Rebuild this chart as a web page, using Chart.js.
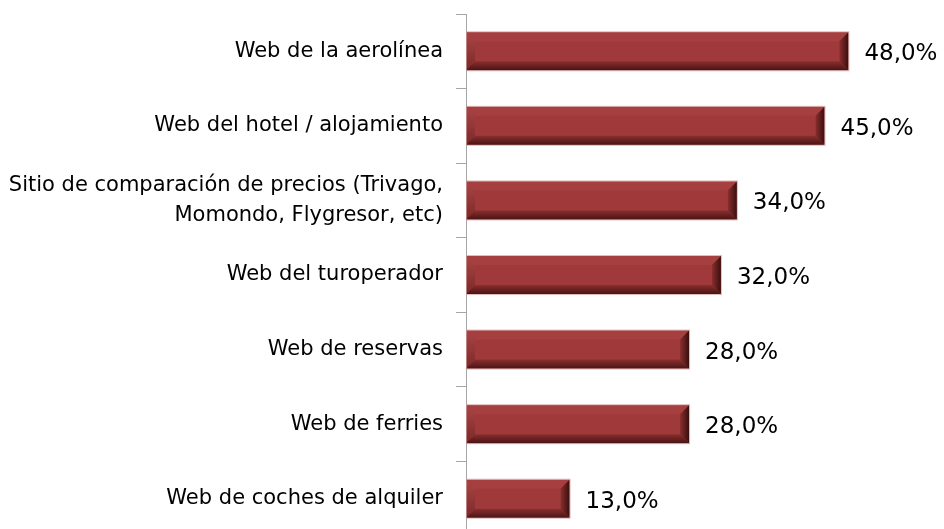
<!DOCTYPE html>
<html>
<head>
<meta charset="utf-8">
<script src="https://cdn.jsdelivr.net/npm/chart.js@4"></script>
<style>
  html, body { margin: 0; padding: 0; background: #fff; overflow: hidden; }
  #wrap { width: 944px; height: 536px; position: relative; }
</style>
</head>
<body>
<div id="wrap"><canvas id="myChart"></canvas></div>
<script>
var categories = [
    'Web de la aerolínea',
    'Web del hotel / alojamiento',
    ['Sitio de comparación de precios (Trivago,', 'Momondo, Flygresor, etc)'],
    'Web del turoperador',
    'Web de reservas',
    'Web de ferries',
    'Web de coches de alquiler'
];
var values = [48, 45, 34, 32, 28, 28, 13];

var fontFamily = '"DejaVu Sans", sans-serif';
var faceColor = '#a03a3a';

// draws the bevelled edges on top of every bar
var bevelPlugin = {
    id: 'bevel',
    afterDatasetsDraw: function (chart) {
        var ctx = chart.ctx;
        var meta = chart.getDatasetMeta(0);
        meta.data.forEach(function (bar) {
            var l = bar.base, r = bar.x;
            var t = bar.y - bar.height / 2, b = bar.y + bar.height / 2;
            var s = 9;
            ctx.save();
            // top
            ctx.fillStyle = '#a64040';
            ctx.beginPath();
            ctx.moveTo(l, t); ctx.lineTo(r, t); ctx.lineTo(r - s, t + s); ctx.lineTo(l + s, t + s);
            ctx.closePath(); ctx.fill();
            // left
            var gl = ctx.createLinearGradient(0, t, 0, b);
            gl.addColorStop(0, '#aa4545');
            gl.addColorStop(1, '#7c2828');
            ctx.fillStyle = gl;
            ctx.beginPath();
            ctx.moveTo(l, t); ctx.lineTo(l + s, t + s); ctx.lineTo(l + s, b - s); ctx.lineTo(l, b);
            ctx.closePath(); ctx.fill();
            // bottom
            var gb = ctx.createLinearGradient(0, b - s, 0, b);
            gb.addColorStop(0, '#8a2e2e');
            gb.addColorStop(1, '#4a1414');
            ctx.fillStyle = gb;
            ctx.beginPath();
            ctx.moveTo(l, b); ctx.lineTo(r, b); ctx.lineTo(r - s, b - s); ctx.lineTo(l + s, b - s);
            ctx.closePath(); ctx.fill();
            // right
            var gr = ctx.createLinearGradient(r - s, 0, r, 0);
            gr.addColorStop(0, '#8a2e2e');
            gr.addColorStop(1, '#3a0e0e');
            ctx.fillStyle = gr;
            ctx.beginPath();
            ctx.moveTo(r, t); ctx.lineTo(r, b); ctx.lineTo(r - s, b - s); ctx.lineTo(r - s, t + s);
            ctx.closePath(); ctx.fill();
            // thin light outline
            ctx.strokeStyle = 'rgba(210,160,160,0.7)';
            ctx.lineWidth = 1;
            ctx.strokeRect(l + 0.5, t - 0.5, r - l, b - t + 1);
            ctx.restore();
        });
    }
};

// value labels to the right of the bars
var labelPlugin = {
    id: 'valueLabels',
    afterDatasetsDraw: function (chart) {
        var ctx = chart.ctx;
        var meta = chart.getDatasetMeta(0);
        ctx.save();
        ctx.font = '23px ' + fontFamily;
        ctx.fillStyle = '#000';
        ctx.textBaseline = 'middle';
        ctx.textAlign = 'left';
        meta.data.forEach(function (bar, i) {
            var txt = values[i].toFixed(1).replace('.', ',') + '%';
            ctx.fillText(txt, bar.x + 16, bar.y + 3);
        });
        ctx.restore();
    }
};

var chart = new Chart(document.getElementById('myChart').getContext('2d'), {
    type: 'bar',
    data: {
        labels: categories,
        datasets: [{
            data: values,
            backgroundColor: faceColor,
            borderWidth: 0,
            barPercentage: 0.51,
            categoryPercentage: 1
        }]
    },
    options: {
        indexAxis: 'y',
        responsive: true,
        maintainAspectRatio: false,
        animation: false,
        layout: { padding: { top: 14, left: 0, right: 0, bottom: 0 } },
        plugins: {
            legend: { display: false },
            tooltip: { enabled: false }
        },
        scales: {
            x: {
                display: false,
                min: 0,
                max: 60
            },
            y: {
                offset: true,
                afterFit: function (scale) {
                    scale.width = 466;
                    scale.paddingTop = 0;
                    scale.paddingBottom = 0;
                },
                border: { display: true, color: '#a6a6a6', width: 1 },
                grid: {
                    offset: true,
                    drawOnChartArea: false,
                    drawTicks: true,
                    tickLength: 10,
                    color: '#a6a6a6'
                },
                ticks: {
                    color: '#000',
                    padding: 13,
                    font: { family: fontFamily, size: 21, lineHeight: 1.43 }
                }
            }
        }
    },
    plugins: [bevelPlugin, labelPlugin]
});
</script>
</body>
</html>
